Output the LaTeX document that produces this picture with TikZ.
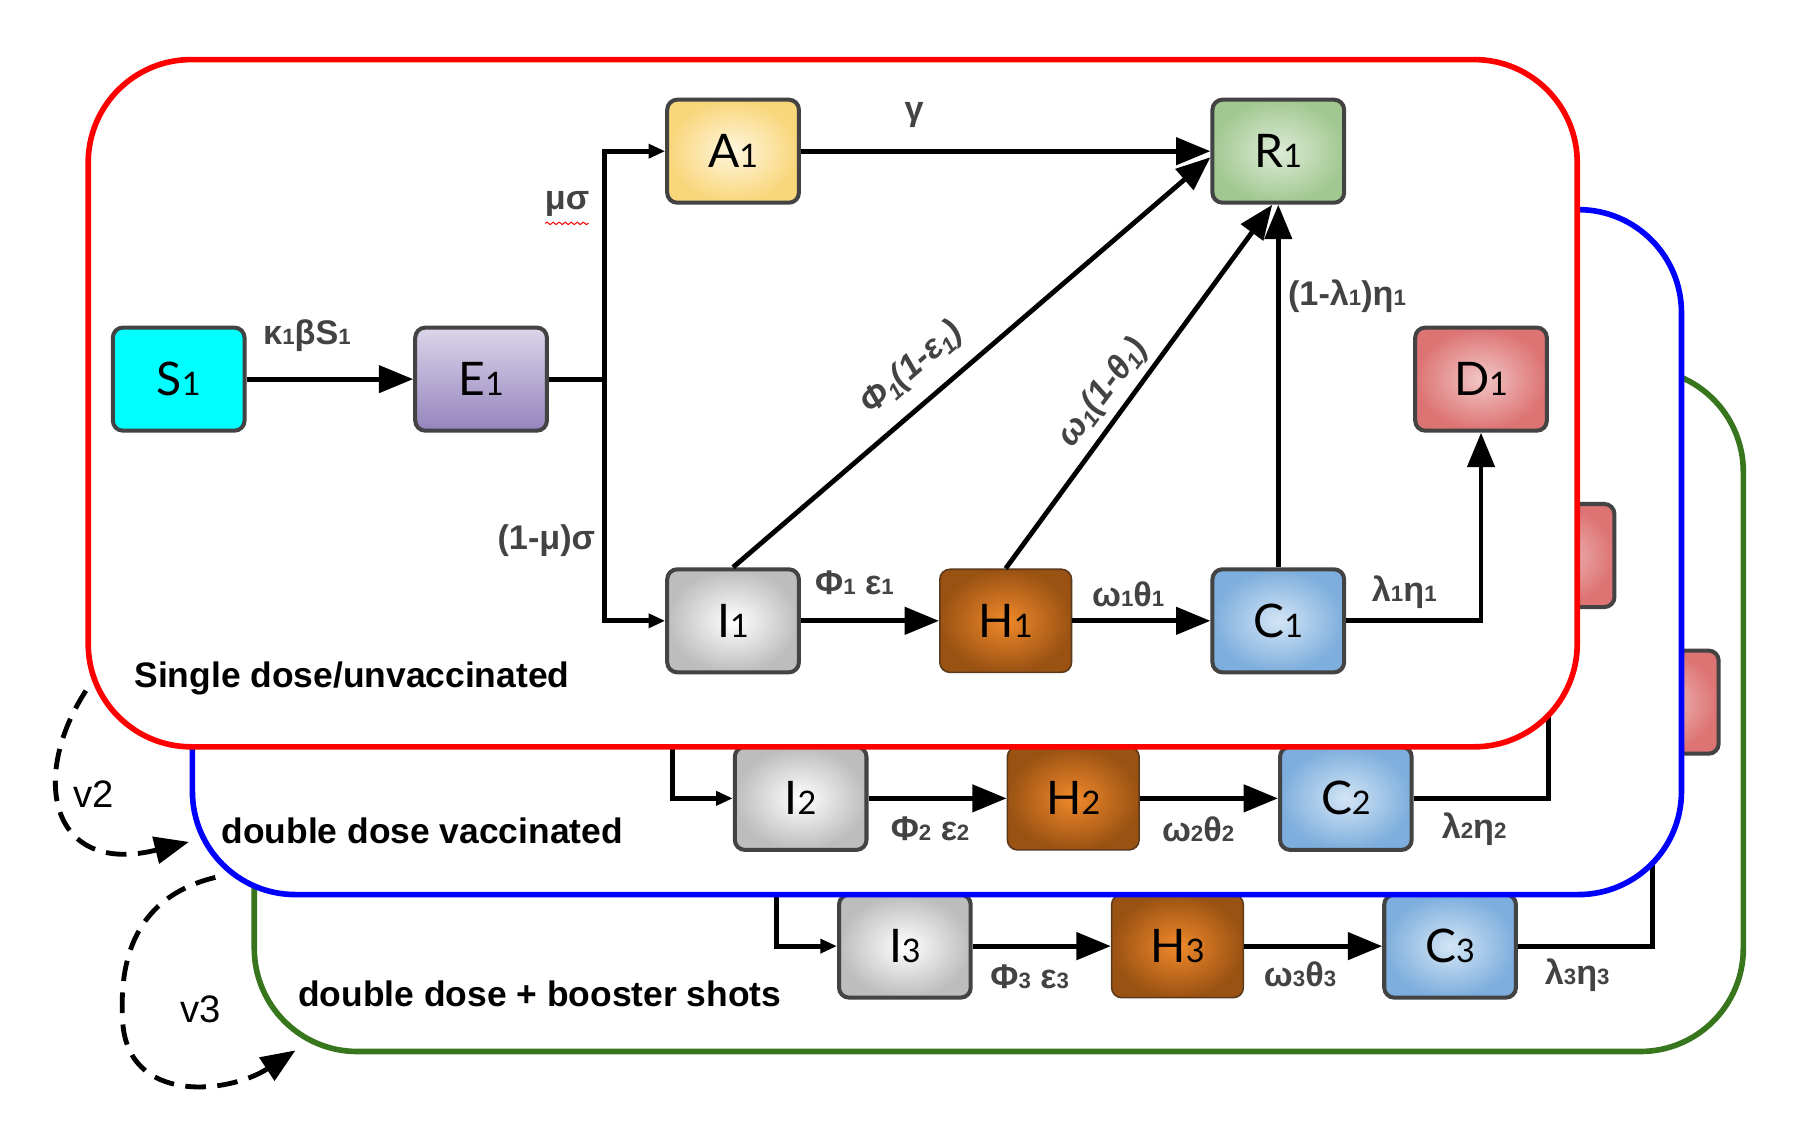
\documentclass[tikz,border=0pt]{standalone}
\usepackage{fontspec}
\setmainfont{Liberation Sans}
\newfontfamily\boxfont{Lato}
\usetikzlibrary{arrows.meta,decorations.pathmorphing}
\definecolor{boxline}{HTML}{434343}
\definecolor{lbl}{HTML}{434343}
\definecolor{gframe}{HTML}{38761D}
\definecolor{scyan}{HTML}{00FFFF}
\definecolor{etop}{HTML}{DCD5EA}
\definecolor{ebot}{HTML}{9484BD}
\definecolor{ain}{HTML}{FFF6DE}
\definecolor{aout}{HTML}{F8D67A}
\definecolor{rin}{HTML}{DDECD7}
\definecolor{rout}{HTML}{A2C892}
\definecolor{din}{HTML}{F2C6C6}
\definecolor{dout}{HTML}{DD7373}
\definecolor{iin}{HTML}{FFFFFF}
\definecolor{iout}{HTML}{BDBDBD}
\definecolor{hin}{HTML}{F0892A}
\definecolor{hout}{HTML}{9A5213}
\definecolor{hline}{HTML}{5B3A1C}
\definecolor{cin}{HTML}{D3E5F5}
\definecolor{cout}{HTML}{7DAEDD}
\newcommand{\lsb}[1]{\scalebox{0.65}{#1}}
\newcommand{\bsb}[1]{\scalebox{0.7}{#1}}
\newcommand{\isb}[1]{\raisebox{-0.3ex}{\scalebox{0.65}{#1}}}
\begin{document}
\begin{tikzpicture}[x=0.02cm,y=-0.02cm,
  cbox/.style={draw=boxline, line width=2pt, rounded corners=5pt, minimum width=2.3cm, minimum height=1.8cm, inner sep=0pt, font=\boxfont\fontsize{23}{25}\selectfont},
  sbox/.style={cbox, fill=scyan},
  ebox/.style={cbox, top color=etop, bottom color=ebot},
  abox/.style={cbox, inner color=ain, outer color=aout},
  rbox/.style={cbox, inner color=rin, outer color=rout},
  dbox/.style={cbox, inner color=din, outer color=dout},
  ibox/.style={cbox, inner color=iin, outer color=iout},
  hbox/.style={cbox, draw=hline, line width=0.8pt, inner color=hin, outer color=hout},
  ccbox/.style={cbox, inner color=cin, outer color=cout},
  conn/.style={line width=2.4pt, black},
  arr/.style={conn, -{Triangle[length=0.6cm,width=0.47cm]}},
  sarr/.style={conn, -{Triangle[length=0.29cm,width=0.24cm]}},
  rl/.style={text=lbl, font=\bfseries\fontsize{17}{19}\selectfont, inner sep=0pt},
  ril/.style={text=lbl, font=\bfseries\itshape\fontsize{17}{19}\selectfont, inner sep=0pt},
  fl/.style={font=\bfseries\fontsize{17.6}{19}\selectfont, anchor=west, inner sep=0pt},
  vl/.style={font=\fontsize{19}{21}\selectfont, inner sep=0pt},
  panel/.style={line width=2.8pt, fill=white, rounded corners=1.8cm},
  vdash/.style={line width=2.4pt, dash pattern=on 0.36cm off 0.2cm, -{Triangle[length=0.6cm,width=0.47cm]}}
]
\useasboundingbox (0,0) rectangle (1568,988);

% ---------- layer 3 ----------
\draw[panel, draw=gframe] (222,322) rectangle (1522,918);
\node[dbox] (D3) at (1443,613) {};
\node[ibox] (I3) at (790,826) {I\bsb{3}};
\node[hbox] (H3) at (1028,826) {H\bsb{3}};
\node[ccbox] (C3) at (1266,826) {C\bsb{3}};
\coordinate (J3) at (678,760);
\draw[sarr] (J3) |- (I3);
\draw[arr] (I3) -- (H3);
\draw[arr] (H3) -- (C3);
\draw[arr] (C3.east) -| (D3.south);
\node[rl] at (899,853) {Φ\lsb{3} ε\lsb{3}};
\node[rl] at (1135,851) {ω\lsb{3}θ\lsb{3}};
\node[rl] at (1377,851) {λ\lsb{3}η\lsb{3}};

% ---------- layer 2 ----------
\draw[panel, draw=blue] (168,183) rectangle (1468,781);
\node[dbox] (D2) at (1352,485) {};
\node[ibox] (I2) at (699,697) {I\bsb{2}};
\node[hbox] (H2) at (937,697) {H\bsb{2}};
\node[ccbox] (C2) at (1175,697) {C\bsb{2}};
\coordinate (J2) at (587,620);
\draw[sarr] (J2) |- (I2);
\draw[arr] (I2) -- (H2);
\draw[arr] (H2) -- (C2);
\draw[arr] (C2.east) -| (D2.south);
\node[rl] at (812,724) {Φ\lsb{2} ε\lsb{2}};
\node[rl] at (1046,724) {ω\lsb{2}θ\lsb{2}};
\node[rl] at (1287,724) {λ\lsb{2}η\lsb{2}};

% ---------- layer 1 ----------
\draw[panel, draw=red] (77,52) rectangle (1377,652);
\node[sbox] (S1) at (156,331) {S\bsb{1}};
\node[ebox] (E1) at (420,331) {E\bsb{1}};
\node[abox] (A1) at (640,132) {A\bsb{1}};
\node[rbox] (R1) at (1116,132) {R\bsb{1}};
\node[dbox] (D1) at (1293,331) {D\bsb{1}};
\node[ibox] (I1) at (640,542) {I\bsb{1}};
\node[hbox] (H1) at (878,542) {H\bsb{1}};
\node[ccbox] (C1) at (1116,542) {C\bsb{1}};
\coordinate (J1) at (528,331);
\draw[arr] (S1) -- (E1);
\draw[conn] (E1) -- (J1);
\draw[sarr] (J1) |- (A1);
\draw[sarr] (J1) |- (I1);
\draw[arr] (A1) -- (R1);
\draw[arr] (I1.north) -- ([yshift=-3pt]R1.west);
\draw[arr] (H1.north) -- ([xshift=-3pt]R1.south);
\draw[arr] (C1) -- (R1);
\draw[arr] (I1) -- (H1);
\draw[arr] (H1) -- (C1);
\draw[arr] (C1.east) -| (D1.south);
\node[rl] at (268,293) {κ\lsb{1}βS\lsb{1}};
\node[rl] (mus) at (495,178) {μσ};
\draw[red, line width=0.5pt, decorate, decoration={snake, amplitude=0.6pt, segment length=3pt}] (476,195) -- (514,195);
\node[rl] at (477,472) {(1-μ)σ};
\node[rl] at (798,100) {γ};
\node[ril, rotate=41] at (796,322) {Φ\isb{1}(1-ε\isb{1})};
\node[ril, rotate=53] at (963,343) {ω\isb{1}(1-θ\isb{1})};
\node[rl] at (1176,259) {(1-λ\lsb{1})η\lsb{1}};
\node[rl] at (746,509) {Φ\lsb{1} ε\lsb{1}};
\node[rl] at (985,519) {ω\lsb{1}θ\lsb{1}};
\node[rl] at (1226,517) {λ\lsb{1}η\lsb{1}};

% ---------- panel labels ----------
\node[fl] (L1) at (117,592) {Single dose/unvaccinated};
\node[fl] (L2) at (193,725) {double dose vaccinated};
\node[fl] (L3) at (260,868) {double dose + booster shots};

% ---------- vaccination transitions ----------
\coordinate (v2s) at (75,603);
\coordinate (v2e) at (165,735);
\coordinate (v3s) at (188,766);
\coordinate (v3m) at (107,890);
\coordinate (v3e) at (258,917);
\draw[vdash] (v2s) .. controls (25,680) and (45,765) .. (v2e);
\draw[vdash] (v3s) .. controls (110,785) and (105,850) .. (v3m) .. controls (110,965) and (200,955) .. (v3e);
\node[vl] (v2) at (82,693) {v2};
\node[vl] (v3) at (175,881) {v3};
\end{tikzpicture}
\end{document}
